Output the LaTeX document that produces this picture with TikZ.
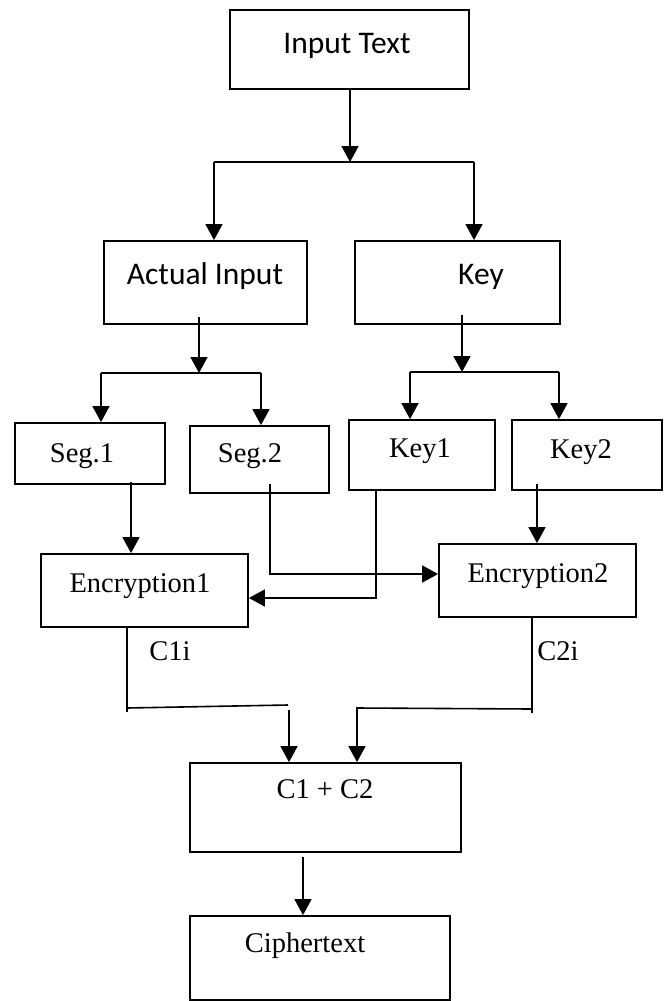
\documentclass[tikz,border=0pt]{standalone}
\usepackage{fontspec}
\setmainfont{Liberation Serif}
\newfontfamily\calfont{Carlito}
\usetikzlibrary{arrows.meta}
\begin{document}
\begin{tikzpicture}[x=1pt,y=-1pt,
  box/.style={draw, line width=1.8pt, inner sep=0pt, rectangle},
  ln/.style={line width=1.6pt},
  arr/.style={line width=1.6pt, -{Triangle[width=17pt,length=16pt]}},
  sanslbl/.style={anchor=base, inner sep=0pt, font=\calfont\fontsize{31.5}{36}\selectfont},
  seriflbl/.style={anchor=base, inner sep=0pt, font=\fontsize{28.5}{32}\selectfont}]
\useasboundingbox (0,0) rectangle (664,1001);
% boxes
\node[box, minimum width=239pt, minimum height=79pt] (it) at (349.5,49.5) {};
\node[box, minimum width=203pt, minimum height=83pt] (ai) at (205.5,282.5) {};
\node[box, minimum width=205pt, minimum height=83pt] (key) at (457.5,282.5) {};
\node[box, minimum width=150pt, minimum height=61pt] (s1) at (90,453.5) {};
\node[box, minimum width=139pt, minimum height=67pt] (s2) at (259.5,459.5) {};
\node[box, minimum width=146pt, minimum height=70pt] (k1) at (422,455) {};
\node[box, minimum width=150pt, minimum height=70pt] (k2) at (587,455) {};
\node[box, minimum width=207pt, minimum height=73pt] (e1) at (144.5,590.5) {};
\node[box, minimum width=197pt, minimum height=73pt] (e2) at (537.5,580.5) {};
\node[box, minimum width=271pt, minimum height=89pt] (c12) at (325.5,807.5) {};
\node[box, minimum width=260pt, minimum height=84pt] (ct) at (320,958) {};
% texts
\node[sanslbl] (itt) at (347,53) {Input Text};
\node[sanslbl] (ait) at (205,284) {Actual Input};
\node[sanslbl] (keyt) at (481,284) {Key};
\node[seriflbl] (s1t) at (82,462) {Seg.1};
\node[seriflbl] (s2t) at (250,462) {Seg.2};
\node[seriflbl] (k1t) at (420,457) {Key1};
\node[seriflbl] (k2t) at (581,458) {Key2};
\node[seriflbl] (e1t) at (140,592) {Encryption1};
\node[seriflbl] (e2t) at (538,582) {Encryption2};
\node[seriflbl] (c12t) at (325,798) {C1 + C2};
\node[seriflbl] (ctt) at (305,952) {Ciphertext};
\node[seriflbl] (c1i) at (170,660) {C1i};
\node[seriflbl] (c2i) at (558,660) {C2i};
% coordinates
\coordinate (j1) at (350,162);
\coordinate (j1L) at (214,162);
\coordinate (j1R) at (474,162);
\coordinate (a2) at (199,317);
\coordinate (j2) at (199,373);
\coordinate (j2L) at (101,373);
\coordinate (j2R) at (261,373);
\coordinate (b2) at (462,315);
\coordinate (j3) at (462,372);
\coordinate (j3L) at (410,372);
\coordinate (j3R) at (559,372);
\coordinate (s1o) at (131,482);
\coordinate (p1) at (270,484);
\coordinate (p1b) at (270,574);
\coordinate (q1b) at (376,598);
\coordinate (r1) at (537,484);
\coordinate (m1) at (127,712);
\coordinate (m1h) at (127,708);
\coordinate (m2h) at (288,705);
\coordinate (m2) at (289,710);
\coordinate (n1) at (532,713);
\coordinate (n1h) at (532,709);
\coordinate (n2) at (357,708);
\coordinate (o1) at (303,857);
% connectors
\draw[arr] (it.south -| j1) -- (j1);
\draw[ln] (j1L) -- (j1R);
\draw[arr] (j1L) -- (ai.north -| j1L);
\draw[arr] (j1R) -- (key.north -| j1R);
\draw[arr] (a2) -- (j2);
\draw[ln] (j2L) -- (j2R);
\draw[arr] (j2L) -- (s1.north -| j2L);
\draw[arr] (j2R) -- (s2.north -| j2R);
\draw[arr] (b2) -- (j3);
\draw[ln] (j3L) -- (j3R);
\draw[arr] (j3L) -- (k1.north -| j3L);
\draw[arr] (j3R) -- (k2.north -| j3R);
\draw[arr] (s1o) -- (e1.north -| s1o);
\draw[arr] (p1) -- (p1b) -- (p1b -| e2.west);
\draw[arr] (k1.south -| q1b) -- (q1b) -- (q1b -| e1.east);
\draw[arr] (r1) -- (e2.north -| r1);
\draw[ln] (e1.south -| m1) -- (m1);
\draw[ln] (m1h) -- (m2h);
\draw[arr] (m2) -- (c12.north -| m2);
\draw[ln] (e2.south -| n1) -- (n1);
\draw[arr] (n1h) -- (n2) -- (c12.north -| n2);
\draw[arr] (o1) -- (ct.north -| o1);
\end{tikzpicture}
\end{document}
